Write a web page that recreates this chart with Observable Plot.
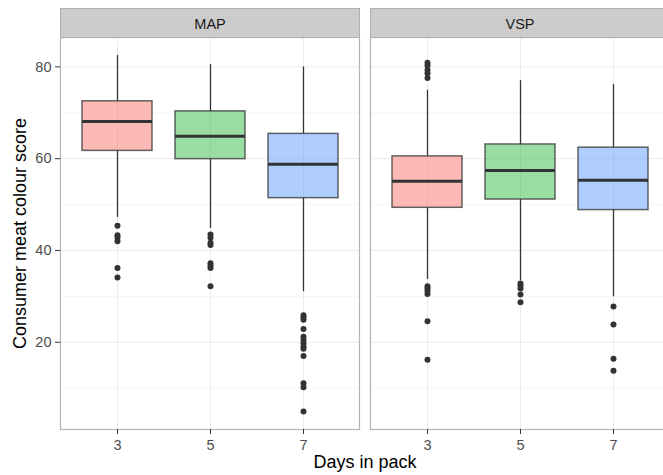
<!DOCTYPE html>
<html>
<head>
<meta charset="utf-8">
<script src="https://cdn.jsdelivr.net/npm/d3@7"></script>
<script src="https://cdn.jsdelivr.net/npm/@observablehq/plot@0.6"></script>
<style>
  html, body { margin: 0; padding: 0; background: #fff; overflow: hidden; }
  #chart { width: 663px; height: 475px; overflow: hidden; }
</style>
</head>
<body>
<div id="chart"></div>
<script>
// Packaging types (facets) and days in pack (x categories)
const packs = ["MAP", "VSP"];
const days = [3, 5, 7];
const dayColors = ["#F8766D", "#33BB45", "#619CFF"];

// Box summaries, one entry per pack/day group
const groupPack = ["MAP", "MAP", "MAP", "VSP", "VSP", "VSP"];
const groupDay = [3, 5, 7, 3, 5, 7];
const whiskerLow = [47.2, 44.8, 31.0, 33.7, 33.4, 29.9];
const lowerQuartile = [61.7, 59.9, 51.4, 49.3, 51.1, 48.8];
const median = [68.1, 64.9, 58.8, 55.1, 57.4, 55.3];
const upperQuartile = [72.5, 70.3, 65.4, 60.5, 63.1, 62.4];
const whiskerHigh = [82.5, 80.5, 80.0, 74.9, 77.0, 76.2];

// Outlying scores per group (same order as above)
const outliersMAP3 = [45.4, 43.3, 42.8, 42.0, 36.2, 34.1];
const outliersMAP5 = [43.5, 42.8, 41.7, 41.2, 37.2, 36.7, 36.2, 32.2];
const outliersMAP7 = [25.9, 25.4, 24.9, 22.9, 21.2, 20.5, 19.8, 19.1, 18.6, 17.0, 11.1, 10.2, 4.9];
const outliersVSP3 = [80.9, 80.3, 79.3, 78.6, 77.6, 32.2, 31.7, 31.2, 30.5, 24.6, 16.2];
const outliersVSP5 = [32.8, 32.3, 31.7, 30.4, 28.7];
const outliersVSP7 = [27.8, 23.9, 16.4, 13.8];
const outlierGroups = [outliersMAP3, outliersMAP5, outliersMAP7, outliersVSP3, outliersVSP5, outliersVSP7];

// Axis ticks
const yMajor = [20, 40, 60, 80];
const yMinor = [10, 30, 50, 70];

const boxes = groupPack.map((pack, i) => ({
  pack, day: groupDay[i],
  lo: whiskerLow[i], q1: lowerQuartile[i], med: median[i], q3: upperQuartile[i], hi: whiskerHigh[i]
}));
const outliers = outlierGroups.flatMap((vals, i) =>
  vals.map(value => ({pack: groupPack[i], day: groupDay[i], value})));

const font = "'Liberation Sans', Arial, Helvetica, sans-serif";

const chart = Plot.plot({
  width: 670,
  height: 475,
  marginLeft: 60,
  marginRight: 1,
  marginTop: 37,
  marginBottom: 46,
  style: {fontFamily: font, background: "#fff", maxWidth: "none", overflow: "visible"},
  fx: {domain: packs, paddingInner: 11 / 310, paddingOuter: 0},
  x: {type: "band", domain: days, paddingInner: 0.25, paddingOuter: 0.2155},
  y: {domain: [1.0, 86.4]},
  color: {type: "ordinal", domain: days, range: dayColors},
  marks: [
    // panel grid
    Plot.gridY(yMinor, {stroke: "#F4F4F4", strokeOpacity: 1, strokeWidth: 0.8}),
    Plot.gridY(yMajor, {stroke: "#EBEBEB", strokeOpacity: 1, strokeWidth: 1}),
    Plot.gridX(days, {stroke: "#EBEBEB", strokeOpacity: 1, strokeWidth: 1}),
    // whiskers
    Plot.ruleX(boxes, {fx: "pack", x: "day", y1: "lo", y2: "q1", stroke: "#333", strokeWidth: 1.3}),
    Plot.ruleX(boxes, {fx: "pack", x: "day", y1: "q3", y2: "hi", stroke: "#333", strokeWidth: 1.3}),
    // boxes
    Plot.barY(boxes, {fx: "pack", x: "day", y1: "q1", y2: "q3", fill: "day", fillOpacity: 0.5,
      stroke: "#333", strokeOpacity: 0.75, strokeWidth: 1.5}),
    // medians
    Plot.tickY(boxes, {fx: "pack", x: "day", y: "med", stroke: "#333", strokeWidth: 3}),
    // outliers
    Plot.dot(outliers, {fx: "pack", x: "day", y: "value", r: 3, fill: "#333", stroke: null}),
    // panel border
    Plot.frame({stroke: "#B3B3B3", strokeWidth: 1.2}),
    // facet strips
    Plot.frame({fill: "#CCCCCC", stroke: "#B0B0B0", strokeWidth: 1, insetTop: -29, insetBottom: 392}),
    Plot.text(packs, {fx: d => d, text: d => d, frameAnchor: "top", dy: -19, fontSize: 14.5, fill: "#1A1A1A"}),
    // axes
    Plot.axisY({ticks: yMajor, tickSize: 5, tickPadding: 4, fontSize: 14.5, stroke: "#333", fill: "#4D4D4D", label: null}),
    Plot.axisY({ticks: [], tickSize: 0, label: "Consumer meat colour score", labelAnchor: "center",
      labelArrow: "none", labelOffset: 47.6, fontSize: 18, fill: "#000"}),
    Plot.axisX({tickSize: 5, tickPadding: 5, fontSize: 14.5, stroke: "#333", fill: "#4D4D4D", label: null}),
    Plot.axisFx({anchor: "bottom", tickSize: 0, tickFormat: () => "", label: "Days in pack",
      labelAnchor: "center", labelArrow: "none", labelOffset: 38, fontSize: 18, fill: "#000"})
  ]
});

document.getElementById("chart").appendChild(chart);
</script>
</body>
</html>
